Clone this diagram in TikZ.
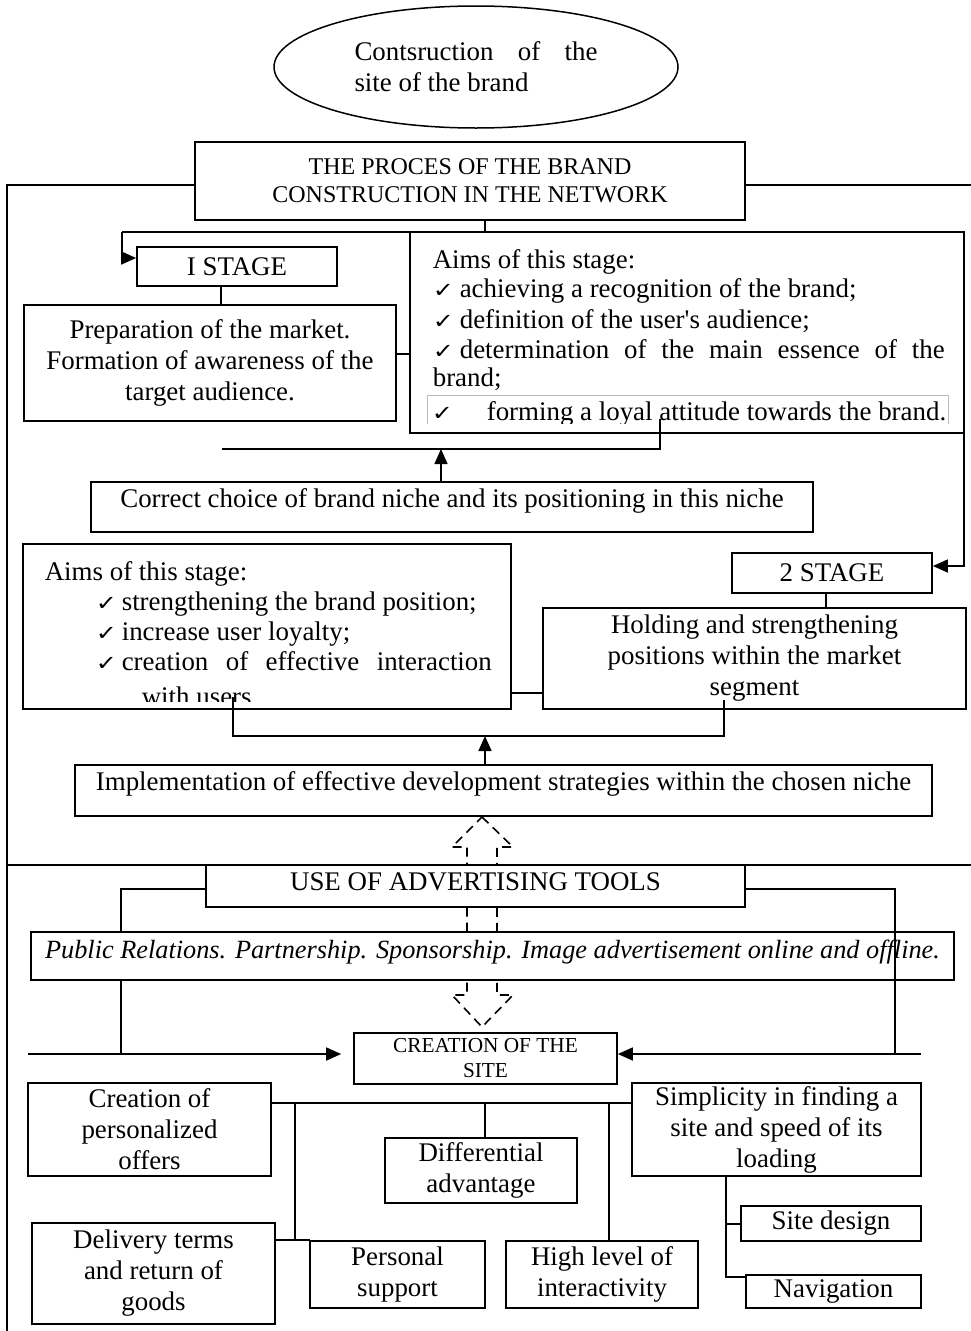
\documentclass[tikz,border=0pt]{standalone}
\usepackage{fontspec}
\usepackage{graphicx}
\setmainfont{Liberation Serif}
\newfontfamily\chk{DejaVu Sans}
\usetikzlibrary{arrows.meta,calc,shapes.geometric}
\newcommand\fs{\fontsize{26.9}{31}\selectfont}
\newcommand\fsb{\fontsize{24}{28}\selectfont}
\newcommand\fsc{\fontsize{21.3}{25}\selectfont}
\newcommand\ck{\scalebox{1.15}[0.95]{\chk\fontsize{22}{22}\selectfont ✓}}
\begin{document}
\begin{tikzpicture}[x=1pt,y=-1pt, line width=1.6pt,
  box/.style={draw, line width=1.7pt, fill=white, inner sep=0pt, align=center, font=\fs},
  txt/.style={inner sep=0pt, font=\fs, align=center},
  lt/.style={inner sep=0pt, font=\fs, anchor=base west},
  arr/.style={-{Triangle[length=15pt,width=13pt]}},
  dsh/.style={line width=1.6pt, dash pattern=on 9pt off 6pt}]
\useasboundingbox (0,0) rectangle (971,1331);
\fill[white] (0,0) rectangle (971,1331);

% background lines
\coordinate (lt) at (7,185);
\coordinate (lb) at (7,1331);
\coordinate (rt) at (971,185);
\draw (195,185) -- (lt) -- (lb);
\draw (745,185) -- (rt);
\coordinate (dl) at (7,865);
\coordinate (dr) at (971,865);
\draw (dl) -- (dr);

% dashed hollow double arrow
\coordinate (dtop) at (482,817);
\coordinate (dbot) at (482,1027);
\draw[dsh] (dtop) -- ++(31,30) -- ++(-16,0) -- ++(0,148) -- ++(16,0) -- (dbot)
  -- ++(-30,-32) -- ++(15,0) -- ++(0,-148) -- ++(-15,0) -- cycle;

% ellipse and top box
\node[ellipse, draw, line width=1.5pt, minimum width=404pt, minimum height=122pt, inner sep=0pt, align=left, font=\fs] (ell) at (476,67)
  {\makebox[243pt][s]{Contsruction of the}\\site of the brand};
\node[box, minimum width=550pt, minimum height=78pt, font=\fsb] (box1) at (470,181)
  {THE PROCES OF THE BRAND\\CONSTRUCTION IN THE NETWORK};

% stage 1
\node[box, minimum width=200pt, minimum height=39pt] (st1) at (237,266.5) {I STAGE};
\node[box, minimum width=372pt, minimum height=116pt] (prep) at (210,363)
  {Preparation of the market.\\Formation of awareness of the\\target audience.};
\node[box, minimum width=554pt, minimum height=201pt] (aims1) at (687,332.5) {};
\node[lt] (a1l1) at (432,268) {Aims of this stage:};
\node[lt] (a1l2) at (432,297) {\makebox[27pt][l]{\ck}achieving a recognition of the brand;};
\node[lt] (a1l3) at (432,328) {\makebox[27pt][l]{\ck}definition of the user\textquotesingle s audience;};
\node[lt] (a1l4) at (432,358) {\makebox[512pt][s]{\makebox[27pt][l]{\ck}determination of the main essence of the}};
\node[lt] (a1l5) at (432,386) {brand;};
\draw[gray!55, line width=0.8pt] (427,424) -- (427,395) -- (948,395) -- (948,424);
\node[lt] (a1l6) at (431,420) {\makebox[55pt][l]{\ck}forming a loyal attitude towards the brand.};
\fill[white] (412,423.5) rectangle (962,431.5);

\node[box, minimum width=722pt, minimum height=50pt] (corr) at (452,507) {};
\node[txt] (corrt) at (452,501) {Correct choice of brand niche and its positioning in this niche};

% stage 2
\node[box, minimum width=200pt, minimum height=40pt] (st2) at (832,573) {2 STAGE};
\node[box, minimum width=488pt, minimum height=165pt] (aims2) at (267,626.5) {};
\node[lt] (a2l1) at (44,580) {Aims of this stage:};
\node[lt] (a2l2) at (95,610) {\makebox[26pt][l]{\ck}strengthening the brand position;};
\node[lt] (a2l3) at (95,640) {\makebox[26pt][l]{\ck}increase user loyalty;};
\node[lt] (a2l4) at (95,670) {\makebox[396pt][s]{\makebox[26pt][l]{\ck}creation of effective interaction}};
\node[lt] (a2l5) at (141,705) {with users};
\fill[white] (25,701.5) rectangle (509,707.5);
\node[box, minimum width=423pt, minimum height=101pt] (hold) at (754.5,658.5)
  {Holding and strengthening\\positions within the market\\segment};

\node[box, minimum width=857pt, minimum height=51pt] (impl) at (503.5,790.5) {};
\node[txt] (implt) at (503.5,784) {Implementation of effective development strategies within the chosen niche};

% connectors upper part
\draw (485,220) -- (485,232);
\coordinate (bl) at (122,232);
\coordinate (br) at (964,232);
\draw (bl) -- (br);
\draw[arr] (bl) -- (122,258) -- (st1.west |- 122,258);
\draw[arr] (br) -- (964,566) -- (st2.east |- 964,566);
\draw (st1.south -| 221,0) -- (prep.north -| 221,0);
\draw (396,354) -- (410,354);
\coordinate (c1) at (660,449);
\draw (660,419) -- (c1) -- (222,449);
\draw[arr] (corr.north -| 441,0) -- (441,449);
\draw (st2.south -| 826,0) -- (hold.north -| 826,0);
\draw (511,693) -- (543,693);
\draw (233,697) -- (233,736) -- (724,736) -- (724,700);
\draw[arr] (impl.north -| 485,0) -- (485,736);

% advertising section
\node[box, minimum width=539pt, minimum height=42pt] (use) at (475.5,886) {};
\node[txt] (uset) at (475.5,882) {USE OF ADVERTISING TOOLS};
\node[box, minimum width=923pt, minimum height=48pt] (pr) at (492.5,956) {};
\node[txt, font=\fontsize{26.3}{31}\selectfont\itshape] (prt) at (492.5,952)
  {Public Relations. Partnership. Sponsorship. Image advertisement online and offline.};
\node[box, minimum width=263pt, minimum height=51pt, font=\fsc] (site) at (485.5,1058.5)
  {CREATION OF THE\\SITE};
\draw (206,889) -- (121,889) -- (121,932);
\draw (121,980) -- (121,1054);
\draw (745,889) -- (895,889) -- (895,1054);
\draw[line width=2.3pt] (28,1054) -- (121,1054);
\draw[arr] (121,1054) -- ([xshift=-12pt]site.west |- 121,1054);
\draw[line width=2.3pt] (921,1054) -- (895,1054);
\draw[arr] (895,1054) -- (site.east |- 895,1054);

% site components
\node[box, minimum width=243pt, minimum height=93pt] (cpo) at (149.5,1129.5)
  {Creation of\\personalized\\offers};
\node[box, minimum width=289pt, minimum height=93pt] (simp) at (776.5,1129.5)
  {Simplicity in finding a\\site and speed of its\\loading};
\node[box, minimum width=192pt, minimum height=65pt] (diff) at (481,1170.5)
  {Differential\\advantage};
\node[box, minimum width=243pt, minimum height=101pt] (deliv) at (153.5,1273.5)
  {Delivery terms\\and return of\\goods};
\node[box, minimum width=175pt, minimum height=67pt] (pers) at (397.5,1274.5)
  {Personal\\support};
\node[box, minimum width=192pt, minimum height=67pt] (high) at (602,1274.5)
  {High level of\\interactivity};
\node[box, minimum width=180pt, minimum height=35pt] (sdes) at (831,1223.5) {Site design};
\node[box, minimum width=175pt, minimum height=33pt] (nav) at (833.5,1291.5) {Navigation};

\draw (271,1103) -- (632,1103);
\draw (485,1103) -- (diff.north -| 485,0);
\draw (295,1103) -- (295,1240);
\draw (275,1240) -- (310,1240);
\draw (609,1103) -- (high.north -| 609,0);
\draw (simp.south -| 726,0) -- (726,1277) -- (nav.west |- 726,1277);
\draw (726,1224) -- (sdes.west |- 726,1224);
\end{tikzpicture}
\end{document}
